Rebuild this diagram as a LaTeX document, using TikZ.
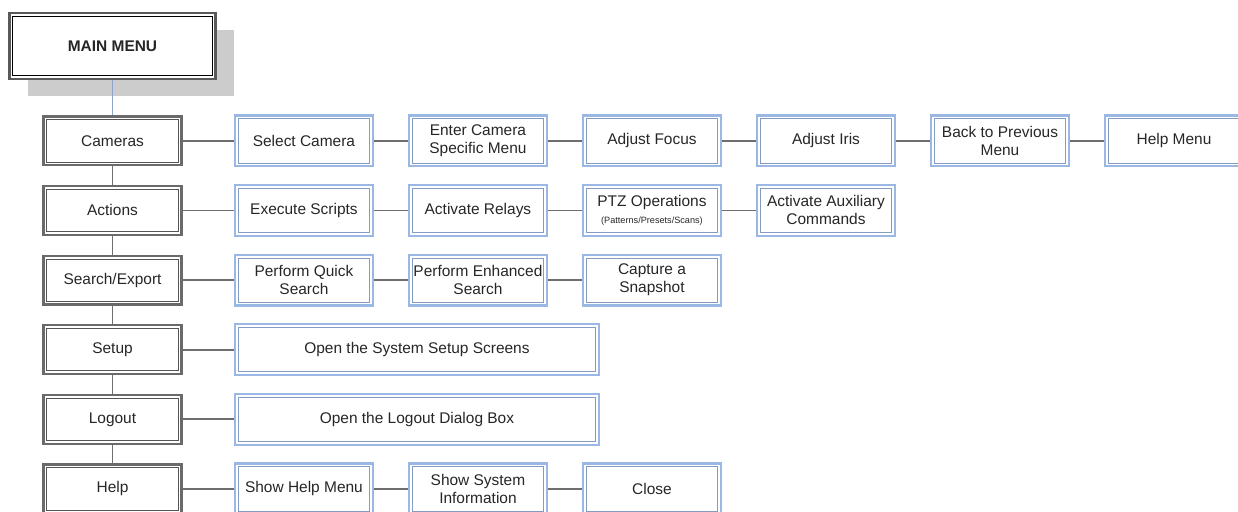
\documentclass[tikz,border=0pt]{standalone}
\usepackage{fontspec}
\setmainfont{Liberation Sans}
\usetikzlibrary{positioning,shadows}

\definecolor{menugray}{HTML}{6A6A6A}
\definecolor{itemblue}{HTML}{9BB7E3}
\definecolor{linkgray}{HTML}{6E6E6E}

\begin{document}
\begin{tikzpicture}[
  font=\fontsize{11}{12.8}\selectfont, text=black!85,
  box/.style={rectangle, align=center, inner sep=2pt},
  inset/.style={path picture={\draw[#1, line width=0.5pt]
      ([shift={(2.3pt,-2.3pt)}]path picture bounding box.north west) rectangle
      ([shift={(-2.3pt,2.3pt)}]path picture bounding box.south east);}},
  mainbox/.style={box, draw=black!65, line width=1.6pt, inset=black, fill=white,
      minimum width=5.15cm, minimum height=1.65cm, font=\fontsize{11}{12.8}\selectfont\bfseries,
      drop shadow={shadow xshift=0.45cm, shadow yshift=-0.43cm, fill=black!20, opacity=1}},
  menubox/.style={box, draw=menugray, line width=1.6pt, inset=menugray!80!black,
      minimum width=3.45cm, minimum height=1.22cm},
  itembox/.style={box, draw=itemblue, line width=1.6pt, inset=itemblue!85!black,
      minimum width=3.45cm, minimum height=1.27cm},
  widebox/.style={itembox, minimum width=9.1cm},
  link/.style={draw=linkgray, line width=1.2pt},
  bluelink/.style={draw=itemblue!90!black, line width=1pt},
]
\useasboundingbox (0,0) rectangle (30.95,-12.8);

% ===== Main menu and its left column =====
\node[mainbox] (main) at (2.8125,-1.15) {MAIN MENU};
\node[menubox, below=0.88cm of main] (cam) {Cameras};
\node[menubox, below=0.464cm of cam] (act) {Actions};
\node[menubox, below=0.464cm of act] (srch) {Search/Export};
\node[menubox, below=0.464cm of srch] (setup) {Setup};
\node[menubox, below=0.464cm of setup] (logout) {Logout};
\node[menubox, below=0.464cm of logout] (help) {Help};

\draw[bluelink] (main) -- (cam);
\draw[link] (cam) -- (act);
\draw[link] (act) -- (srch);
\draw[link] (srch) -- (setup);
\draw[link] (setup) -- (logout);
\draw[link] (logout) -- (help);

% ===== Cameras row =====
\node[itembox, right=1.28cm of cam] (selcam) {Select Camera};
\node[itembox, right=0.844cm of selcam] (camspec) {Enter Camera\\Specific Menu};
\node[itembox, right=0.844cm of camspec] (focus) {Adjust Focus};
\node[itembox, right=0.844cm of focus] (iris) {Adjust Iris};
\node[itembox, right=0.844cm of iris] (back) {Back to Previous\\Menu};
\node[itembox, right=0.844cm of back] (helpmenu) {Help Menu};

\draw[link] (cam) -- (selcam);
\draw[link] (selcam) -- (camspec);
\draw[link] (camspec) -- (focus);
\draw[link] (focus) -- (iris);
\draw[link] (iris) -- (back);
\draw[link] (back) -- (helpmenu);

% ===== Actions row =====
\node[itembox, right=1.28cm of act] (scripts) {Execute Scripts};
\node[itembox, right=0.844cm of scripts] (relays) {Activate Relays};
\node[itembox, right=0.844cm of relays] (ptz)
  {PTZ Operations\\[-1pt]{\fontsize{6.5}{7}\selectfont(Patterns/Presets/Scans)}};
\node[itembox, right=0.844cm of ptz] (aux) {Activate Auxiliary\\Commands};

\draw[link] (act) -- (scripts);
\draw[link] (scripts) -- (relays);
\draw[link] (relays) -- (ptz);
\draw[link] (ptz) -- (aux);

% ===== Search/Export row =====
\node[itembox, right=1.28cm of srch] (quick) {Perform Quick\\Search};
\node[itembox, right=0.844cm of quick] (enh) {Perform Enhanced\\Search};
\node[itembox, right=0.844cm of enh] (snap) {Capture a\\Snapshot};

\draw[link] (srch) -- (quick);
\draw[link] (quick) -- (enh);
\draw[link] (enh) -- (snap);

% ===== Setup and Logout rows =====
\node[widebox, right=1.28cm of setup] (sysset) {Open the System Setup Screens};
\node[widebox, right=1.28cm of logout] (logdlg) {Open the Logout Dialog Box};

\draw[link] (setup) -- (sysset);
\draw[link] (logout) -- (logdlg);

% ===== Help row =====
\node[itembox, right=1.28cm of help] (showhelp) {Show Help Menu};
\node[itembox, right=0.844cm of showhelp] (sysinfo) {Show System\\Information};
\node[itembox, right=0.844cm of sysinfo] (close) {Close};

\draw[link] (help) -- (showhelp);
\draw[link] (showhelp) -- (sysinfo);
\draw[link] (sysinfo) -- (close);

\end{tikzpicture}
\end{document}
